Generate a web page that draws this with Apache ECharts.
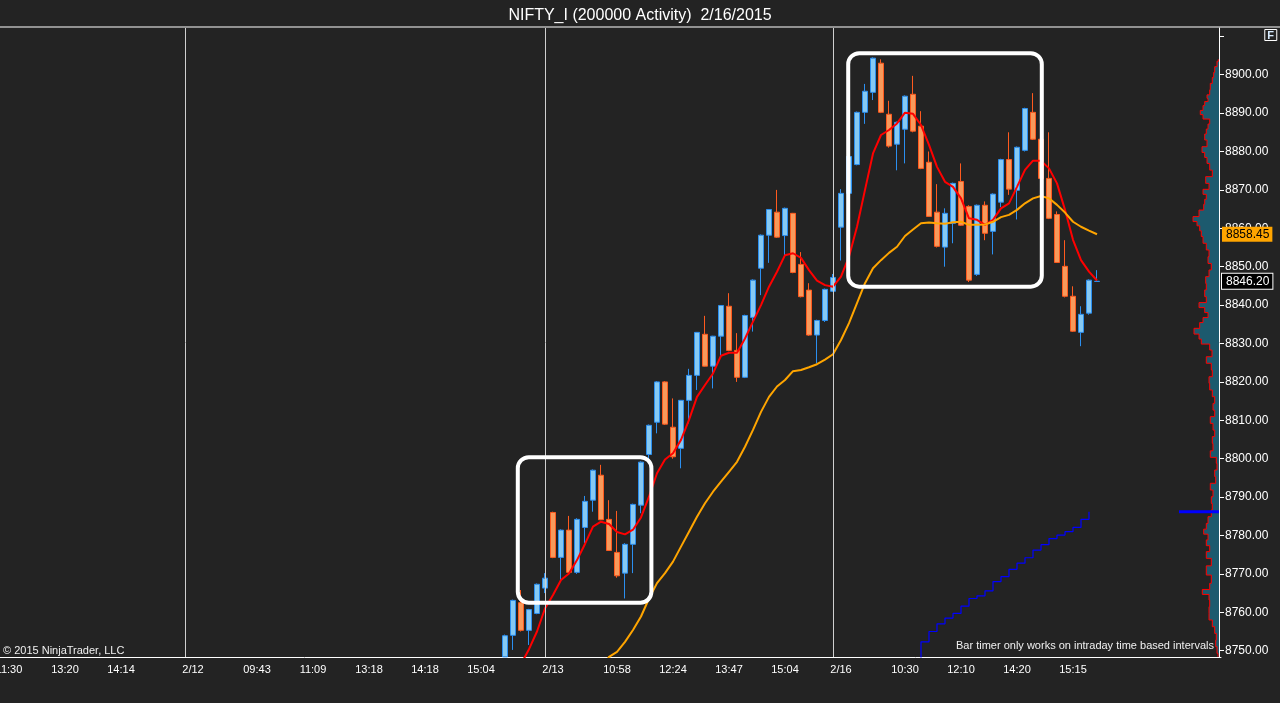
<!DOCTYPE html>
<html>
<head>
<meta charset="utf-8">
<script src="https://cdn.jsdelivr.net/npm/echarts@6/dist/echarts.min.js"></script>
<style>
html,body{margin:0;padding:0;background:#232323;}
#chart{width:1280px;height:703px;}
</style>
</head>
<body>
<div id="chart"></div>
<script>
// ---- data ----
const slotCount = 153;
const tickSlots = [1, 8, 15, 24, 32, 39, 46, 53, 60, 69, 77, 84, 91, 98, 105, 113, 120, 127, 134];
const tickLabels = ['11:30', '13:20', '14:14', '2/12', '09:43', '11:09', '13:18', '14:18', '15:04', '2/13', '10:58', '12:24', '13:47', '15:04', '2/16', '10:30', '12:10', '14:20', '15:15'];
const sessionSlots = [23, 68, 104];

const candleStart = 63;
const opens = [
  8748.4, 8754.0, 8762.5, 8755.3, 8759.7, 8766.3, 8786.0, 8774.3, 8781.4, 8770.4,
  8782.1, 8789.2, 8795.7, 8784.2, 8775.6, 8770.2, 8777.7, 8787.9, 8801.1, 8809.5,
  8820.0, 8808.2, 8802.7, 8815.2, 8821.7, 8832.4, 8824.1, 8831.9, 8839.7, 8828.2,
  8821.2, 8836.8, 8849.6, 8858.2, 8864.2, 8858.1, 8863.9, 8850.6, 8843.9, 8832.2,
  8836.0, 8843.6, 8860.3, 8869.1, 8876.6, 8890.2, 8895.4, 8903.0, 8889.7, 8881.9,
  8885.8, 8894.9, 8886.6, 8877.2, 8864.2, 8855.1, 8861.3, 8872.2, 8865.7, 8848.0,
  8866.0, 8859.2, 8866.8, 8877.9, 8869.9, 8880.3, 8890.2, 8883.2, 8873.0, 8863.6,
  8850.1, 8842.3, 8832.9, 8837.9, 8846.15
];
const highs = [
  8754.2, 8763.3, 8765.8, 8760.9, 8767.5, 8770.2, 8786.2, 8781.6, 8785.1, 8784.5,
  8790.3, 8797.2, 8798.4, 8789.2, 8786.4, 8778.0, 8788.3, 8799.3, 8808.9, 8820.2,
  8820.2, 8815.7, 8815.3, 8823.4, 8833.0, 8837.2, 8832.0, 8840.0, 8843.1, 8832.7,
  8837.5, 8846.7, 8858.4, 8865.0, 8870.0, 8865.4, 8864.0, 8853.8, 8845.7, 8836.2,
  8844.3, 8848.1, 8870.2, 8879.0, 8890.4, 8897.6, 8904.5, 8904.0, 8893.2, 8887.8,
  8894.6, 8899.7, 8890.5, 8880.0, 8871.5, 8865.2, 8871.9, 8876.9, 8866.0, 8866.2,
  8867.0, 8869.1, 8878.1, 8885.0, 8881.3, 8891.4, 8895.2, 8883.4, 8885.0, 8864.4,
  8856.9, 8844.9, 8839.7, 8846.7, 8849.1
];
const lows = [
  8748.4, 8750.2, 8755.0, 8751.5, 8759.5, 8765.0, 8774.1, 8768.4, 8770.0, 8770.0,
  8778.0, 8786.2, 8784.0, 8776.0, 8769.0, 8763.6, 8770.2, 8785.8, 8799.7, 8806.6,
  8808.8, 8800.0, 8797.5, 8809.2, 8817.9, 8824.0, 8818.3, 8826.6, 8828.0, 8820.0,
  8821.0, 8833.1, 8842.6, 8851.0, 8857.5, 8852.5, 8848.3, 8842.0, 8832.0, 8824.8,
  8835.6, 8843.4, 8851.6, 8862.0, 8876.4, 8887.2, 8893.4, 8890.0, 8881.0, 8875.1,
  8876.9, 8885.0, 8875.4, 8863.0, 8855.0, 8850.0, 8856.1, 8860.6, 8846.0, 8847.6,
  8856.9, 8853.2, 8865.5, 8868.7, 8862.3, 8880.0, 8883.0, 8872.8, 8862.4, 8851.0,
  8842.0, 8833.0, 8829.3, 8837.5, 8846.1
];
const closes = [
  8753.9, 8763.1, 8755.3, 8760.7, 8767.3, 8768.9, 8774.3, 8781.4, 8770.4, 8784.2,
  8788.9, 8797.0, 8784.1, 8776.1, 8769.5, 8777.7, 8788.1, 8799.1, 8808.7, 8820.0,
  8809.0, 8800.5, 8815.2, 8821.7, 8832.9, 8824.1, 8831.9, 8839.9, 8828.2, 8821.2,
  8837.3, 8846.5, 8858.2, 8864.9, 8857.7, 8865.2, 8848.5, 8842.2, 8832.2, 8836.0,
  8844.1, 8847.2, 8869.1, 8878.7, 8890.2, 8895.7, 8904.3, 8890.2, 8881.4, 8887.6,
  8894.4, 8885.3, 8875.6, 8863.1, 8855.3, 8863.9, 8871.7, 8860.8, 8846.5, 8866.0,
  8858.7, 8868.9, 8877.9, 8870.2, 8881.1, 8891.2, 8883.2, 8873.0, 8862.6, 8851.1,
  8842.3, 8833.2, 8837.6, 8846.5, 8846.2
];

const redStart = 64;
const redMA = [
  8740, 8746.5, 8750.4, 8755.0, 8761.0, 8764.5, 8768.4, 8770.1, 8773.6, 8777.8,
  8782.3, 8783.6, 8783.0, 8780.9, 8780.3, 8781.5, 8784.7, 8790.1, 8796.2, 8799.8,
  8801.4, 8804.9, 8810.1, 8816.1, 8819.2, 8822.2, 8826.8, 8827.6, 8827.6, 8831.3,
  8835.7, 8840.0, 8844.8, 8848.7, 8853.0, 8853.5, 8852.3, 8849.1, 8846.4, 8845.2,
  8844.8, 8847.4, 8852.6, 8860.4, 8870.0, 8879.5, 8884.3, 8885.6, 8887.3, 8890.1,
  8889.8, 8886.9, 8881.7, 8876.0, 8872.1, 8870.8, 8867.8, 8862.6, 8862.2, 8860.9,
  8862.2, 8865.2, 8866.5, 8870.8, 8875.2, 8877.6, 8877.6, 8875.6, 8871.7, 8864.8,
  8857.0, 8851.7, 8848.7, 8846.4
];

const orangeStart = 75;
const orangeMA = [
  8745.0, 8748.4, 8749.7, 8752.3, 8755.4, 8758.9, 8763.6, 8767.6, 8770.2, 8773.2,
  8777.1, 8781.0, 8784.9, 8788.4, 8791.4, 8794.0, 8796.6, 8799.2, 8803.1, 8807.5,
  8812.2, 8816.1, 8818.8, 8820.5, 8822.8, 8823.1, 8823.8, 8824.6, 8825.8, 8827.2,
  8830.9, 8835.3, 8840.5, 8845.7, 8849.6, 8851.7, 8853.6, 8855.2, 8858.0, 8859.7,
  8861.3, 8861.5, 8861.3, 8861.2, 8861.6, 8861.7, 8860.9, 8860.9, 8861.0, 8861.7,
  8862.9, 8863.5, 8864.8, 8866.5, 8867.8, 8868.4, 8867.8, 8866.1, 8864.1, 8861.7,
  8860.4, 8859.4, 8858.45
];

const stairStart = 114;
const stairVals = [
  8745, 8752.3, 8755.0, 8757.0, 8758.5, 8759.7, 8761.6, 8763.6, 8764.3, 8765.6,
  8768.0, 8769.3, 8771.2, 8772.8, 8774.2, 8776.2, 8777.6, 8779.2, 8780.1, 8781.0,
  8782.1, 8784.2, 8786.2
];

// highlighted zones: slot range and price range
const boxX0 = [64.6, 105.9];
const boxX1 = [81.3, 130.1];
const boxLow = [8762.5, 8844.8];
const boxHigh = [8800.4, 8905.6];

// volume profile (price level, relative volume)
const profPrice = [
  8904.0, 8903.0, 8901.2, 8900.0, 8898.6, 8896.9, 8895.2, 8894.3, 8893.4, 8892.6,
  8891.3, 8890.1, 8889.1, 8887.8, 8886.5, 8885.2, 8883.9, 8882.1, 8880.4, 8879.1,
  8877.8, 8876.0, 8874.3, 8872.6, 8870.8, 8869.5, 8868.2, 8866.9, 8865.6, 8863.9,
  8862.2, 8861.3, 8860.0, 8858.7, 8857.0, 8855.2, 8853.5, 8851.7, 8850.0, 8848.3,
  8846.5, 8844.8, 8843.1, 8841.3, 8840.0, 8838.7, 8837.4, 8836.1, 8834.8, 8833.1,
  8831.8, 8830.5, 8829.2, 8827.4, 8825.7, 8824.0, 8822.2, 8820.5, 8818.8, 8817.0,
  8815.3, 8813.5, 8811.8, 8810.1, 8808.3, 8806.6, 8804.9, 8803.1, 8801.0, 8799.7,
  8797.9, 8796.2, 8794.5, 8792.7, 8791.0, 8789.2, 8787.5, 8785.8, 8784.0, 8782.3,
  8781.0, 8779.7, 8778.0, 8776.7, 8774.9, 8773.2, 8771.0, 8768.4, 8766.7, 8765.2,
  8764.1, 8762.3, 8760.6, 8758.9, 8757.1, 8755.4, 8753.6, 8751.9, 8750.2, 8748.4
];
const profVol = [
  0.7, 2, 4.3, 5.3, 6.7, 8.7, 9.3, 12, 11, 14.3,
  16, 18.7, 16, 9.3, 11, 12.7, 14.3, 12, 17, 14.3,
  12, 9.3, 6.7, 13.3, 10, 16, 12.7, 14.3, 15.3, 20,
  26, 22, 19.3, 17.7, 16, 12.7, 10, 11, 7.7, 10,
  13.3, 12.7, 14.3, 12.7, 20, 14.3, 11, 16, 19.3, 25,
  20, 17.7, 9.3, 7, 12.7, 7.7, 6.7, 10, 9.3, 6.7,
  4.3, 6, 4.3, 8.7, 6, 4.3, 6.7, 6, 8.7, 2.7,
  2, 4.3, 3.3, 8.7, 6, 7.7, 6.7, 7.7, 11, 12.7,
  15.3, 11, 12.7, 9.3, 12.7, 7.7, 12.7, 7.7, 9.3, 16.7,
  10, 9.3, 10, 10, 6.7, 4.3, 2.7, 3.3, 2, 1
];

const yTickVals = [8750, 8760, 8770, 8780, 8790, 8800, 8810, 8820, 8830, 8840, 8850, 8860, 8870, 8880, 8890, 8900, 8910];
const yLabelVals = [8750, 8760, 8770, 8780, 8790, 8800, 8810, 8820, 8830, 8840, 8850, 8860, 8870, 8880, 8890, 8900];
const priceMin = 8748.36, priceMax = 8912.16;

// ---- build ----
const FONT = 'Liberation Sans, Arial, sans-serif';
const categories = new Array(slotCount).fill('');
tickSlots.forEach((s, i) => { categories[s] = tickLabels[i]; });
const candleData = opens.map((o, i) => [candleStart + i, o, closes[i], lows[i], highs[i]]);
const redData = redMA.map((v, i) => [redStart + i, v]);
const orangeData = orangeMA.map((v, i) => [orangeStart + i, v]);
const stairData = stairVals.map((v, i) => [stairStart + i, v]);
const lastClose = closes[closes.length - 1];
const lastOrange = orangeMA[orangeMA.length - 1];
const lastStair = stairVals[stairVals.length - 1];
const showTick = (idx, val) => val !== '';

const chart = echarts.init(document.getElementById('chart'));
chart.setOption({
  backgroundColor: '#232323',
  animation: false,
  textStyle: { fontFamily: FONT },
  title: [
    { text: 'NIFTY_I (200000 Activity)  2/16/2015', left: 'center', top: 3,
      textStyle: { color: '#ffffff', fontSize: 16, fontWeight: 'normal', fontFamily: FONT } },
    { text: 'F', right: 3, top: 29, padding: [1, 3, 0, 3], borderColor: '#ffffff', borderWidth: 1,
      textStyle: { color: '#d8ecff', fontSize: 11, fontWeight: 'bold', fontFamily: FONT } }
  ],
  graphic: [
    { type: 'rect', shape: { x: 0, y: 26.5, width: 1280, height: 1 }, style: { fill: '#ffffff' }, silent: true },
    { type: 'text', left: 3, top: 645, style: { text: '© 2015 NinjaTrader, LLC', fill: '#f0f0f0', font: '11px ' + FONT } },
    { type: 'text', right: 66, top: 640, style: { text: 'Bar timer only works on intraday time based intervals', fill: '#f0f0f0', font: '11px ' + FONT } }
  ],
  grid: [
    { left: -3, right: 59, top: 28, bottom: 46, outerBoundsMode: 'none', containLabel: false },
    { left: 1159, right: 61, top: 28, bottom: 46, outerBoundsMode: 'none', containLabel: false }
  ],
  xAxis: [
    { gridIndex: 0, type: 'category', data: categories, boundaryGap: true,
      axisLine: { lineStyle: { color: '#ffffff', width: 1 } },
      axisTick: { interval: showTick, alignWithLabel: true, length: 5, lineStyle: { color: '#ffffff' } },
      axisLabel: { interval: showTick, color: '#ffffff', fontSize: 11, margin: 7, fontFamily: FONT, hideOverlap: false },
      splitLine: { show: false } },
    { gridIndex: 1, type: 'value', min: 0, max: 60, inverse: true, show: false }
  ],
  yAxis: [
    { gridIndex: 0, type: 'value', position: 'right', offset: -2, min: priceMin, max: priceMax,
      axisLine: { show: true, lineStyle: { color: '#ffffff', width: 1 } },
      axisTick: { show: true, length: 5, customValues: yTickVals, lineStyle: { color: '#ffffff' } },
      axisLabel: { customValues: yLabelVals, formatter: v => Number(v).toFixed(2), color: '#ffffff', fontSize: 12, margin: 6, fontFamily: FONT },
      splitLine: { show: false } },
    { gridIndex: 1, type: 'value', min: priceMin, max: priceMax, show: false },
    { gridIndex: 0, type: 'value', position: 'right', offset: -2, min: priceMin, max: priceMax,
      axisLine: { show: false }, axisTick: { show: false }, splitLine: { show: false },
      axisLabel: { customValues: [lastOrange, lastClose], margin: 3, fontFamily: FONT,
        formatter: v => (Math.abs(v - lastOrange) < 0.001 ? '{o|' : '{c|') + Number(v).toFixed(2) + '}',
        rich: {
          o: { backgroundColor: '#ffa500', color: '#000000', fontSize: 12, padding: [2, 3, 1, 4], fontFamily: FONT },
          c: { backgroundColor: '#000000', borderColor: '#ffffff', borderWidth: 1, color: '#ffffff', fontSize: 12, padding: [2, 3, 1, 4], fontFamily: FONT }
        } } }
  ],
  series: [
    { type: 'line', name: 'timer', xAxisIndex: 0, yAxisIndex: 0, data: stairData, step: 'end', clip: true,
      symbol: 'none', z: 1, lineStyle: { color: '#0000ff', width: 1.2 },
      markLine: { silent: true, symbol: 'none', animation: false,
        lineStyle: { color: '#cfcfcf', width: 1, type: 'solid' }, label: { show: false },
        data: sessionSlots.map(s => ({ xAxis: s })) } },
    { type: 'candlestick', name: 'NIFTY_I', xAxisIndex: 0, yAxisIndex: 0, data: candleData, clip: true,
      encode: { x: 0, y: [1, 2, 3, 4] }, barWidth: 5, z: 2,
      itemStyle: { color: '#86c9f2', color0: '#f79a5c', borderColor: '#2b8ff0', borderColor0: '#ff5a1e', borderWidth: 1 } },
    { type: 'line', name: 'fast', xAxisIndex: 0, yAxisIndex: 0, data: redData, symbol: 'none', z: 3, clip: true,
      lineStyle: { color: '#ff0000', width: 2 } },
    { type: 'line', name: 'slow', xAxisIndex: 0, yAxisIndex: 0, data: orangeData, symbol: 'none', z: 3, clip: true,
      lineStyle: { color: '#ffa500', width: 2 } },
    { type: 'custom', name: 'zones', xAxisIndex: 0, yAxisIndex: 0, z: 5, clip: false,
      data: boxX0.map((v, i) => [Math.floor(v), boxHigh[i]]),
      encode: { x: 0, y: 1 },
      renderItem: function (params, api) {
        const i = params.dataIndex;
        const sw = api.size([1, 0])[0];
        const a = api.coord([Math.floor(boxX0[i]), boxHigh[i]]);
        const b = api.coord([Math.floor(boxX1[i]), boxLow[i]]);
        const x0 = a[0] + (boxX0[i] - Math.floor(boxX0[i])) * sw;
        const x1 = b[0] + (boxX1[i] - Math.floor(boxX1[i])) * sw;
        return { type: 'rect', shape: { x: x0, y: a[1], width: x1 - x0, height: b[1] - a[1], r: 11 },
          style: { fill: 'none', stroke: '#ffffff', lineWidth: 4 } };
      } },
    { type: 'custom', name: 'profile', xAxisIndex: 1, yAxisIndex: 1, z: 2, clip: false,
      data: [[0, profPrice[0]]], encode: { x: 0, y: 1 },
      renderItem: function (params, api) {
        const n = profPrice.length;
        const line = [];
        for (let i = 0; i < n; i++) {
          const up = i === 0 ? profPrice[0] : (profPrice[i - 1] + profPrice[i]) / 2;
          const dn = i === n - 1 ? profPrice[n - 1] : (profPrice[i] + profPrice[i + 1]) / 2;
          line.push(api.coord([profVol[i], up]));
          line.push(api.coord([profVol[i], dn]));
        }
        const poly = [api.coord([0, profPrice[0]])].concat(line, [api.coord([0, profPrice[n - 1]])]);
        return { type: 'group', children: [
          { type: 'polygon', shape: { points: poly }, style: { fill: '#1c5a6e' } },
          { type: 'polyline', shape: { points: line }, style: { fill: 'none', stroke: '#ff0000', lineWidth: 1 } }
        ] };
      } },
    { type: 'line', name: 'timerLevel', xAxisIndex: 1, yAxisIndex: 1, symbol: 'none', z: 4,
      data: [[0, lastStair], [40, lastStair]], lineStyle: { color: '#0000ff', width: 3 } }
  ]
});
</script>
</body>
</html>
